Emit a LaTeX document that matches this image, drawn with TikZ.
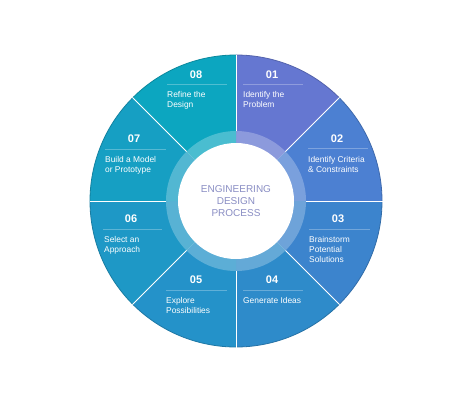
\documentclass[tikz,border=0pt]{standalone}
\usepackage{fontspec}
\setmainfont{Liberation Sans}
\usetikzlibrary{calc}

\begin{document}
\begin{tikzpicture}[
    x=1pt, y=1pt,
    every node/.style={font=\fontsize{8.4}{10.2}\selectfont, text=white, inner sep=0pt},
    stepNum/.style={font=\bfseries\fontsize{11}{12}\selectfont, anchor=base},
    stepLabel/.style={align=left, anchor=base west},
    sepLine/.style={draw=white, draw opacity=0.28, line width=0.6pt},
    divider/.style={draw=white, line width=0.9pt},
    ringBand/.style={fill=white, fill opacity=0.26},
    titleText/.style={align=center, text=titleTone, font=\fontsize{10}{12.3}\selectfont}
  ]
    \definecolor{toneA}{RGB}{101,119,209}
    \definecolor{toneB}{RGB}{76,128,210}
    \definecolor{toneC}{RGB}{60,132,205}
    \definecolor{toneD}{RGB}{46,139,202}
    \definecolor{toneE}{RGB}{36,146,201}
    \definecolor{toneF}{RGB}{30,152,198}
    \definecolor{toneG}{RGB}{22,159,195}
    \definecolor{toneH}{RGB}{12,166,192}
    \definecolor{titleTone}{RGB}{138,142,196}

    \useasboundingbox[fill=white] (0,0) rectangle (473,400);
    \coordinate (ctr) at (236,199);

    % wheel segments, 01 top right then clockwise
    \foreach \ang/\tone in {45/toneA, 0/toneB, -45/toneC, -90/toneD,
                            -135/toneE, 180/toneF, 135/toneG, 90/toneH} {
      \fill[\tone] (ctr) -- ([shift={(ctr)}]\ang:146)
        arc[start angle=\ang, end angle=\ang+45, radius=146] -- cycle;
      \draw[\tone!82!black, line width=0.8pt] ([shift={(ctr)}]\ang:146)
        arc[start angle=\ang, end angle=\ang+45, radius=146];
    }
    \foreach \ang in {0,45,...,315}
      \draw[divider] ([shift={(ctr)}]\ang:70) -- ([shift={(ctr)}]\ang:146.5);

    \fill[ringBand] (ctr) circle[radius=70];
    \fill[white] (ctr) circle[radius=58];
    \node[titleText] (title) at (ctr) {ENGINEERING\\DESIGN\\PROCESS};

    % 01
    \node[stepNum] (n01) at (272,322) {01};
    \draw[sepLine] (243,316) -- (303,316);
    \node[stepLabel] (t01) at (243,292.8) {Identify the\\Problem};
    % 02
    \node[stepNum] (n02) at (337,258) {02};
    \draw[sepLine] (308,252) -- (368,252);
    \node[stepLabel] (t02) at (308,227.8) {Identify Criteria\\\& Constraints};
    % 03
    \node[stepNum] (n03) at (338,178) {03};
    \draw[sepLine] (309,171) -- (370,171);
    \node[stepLabel] (t03) at (309,137.6) {Brainstorm\\Potential\\Solutions};
    % 04
    \node[stepNum] (n04) at (272,117) {04};
    \draw[sepLine] (243,110) -- (303,110);
    \node[stepLabel] (t04) at (243,97) {Generate Ideas};
    % 05
    \node[stepNum] (n05) at (196,117) {05};
    \draw[sepLine] (166,110) -- (227,110);
    \node[stepLabel] (t05) at (166,86.8) {Explore\\Possibilities};
    % 06
    \node[stepNum] (n06) at (131,178) {06};
    \draw[sepLine] (103,171) -- (162,171);
    \node[stepLabel] (t06) at (104,147.8) {Select an\\Approach};
    % 07
    \node[stepNum] (n07) at (134,258) {07};
    \draw[sepLine] (105,251) -- (166,251);
    \node[stepLabel] (t07) at (105,227.8) {Build a Model\\or Prototype};
    % 08
    \node[stepNum] (n08) at (196,322) {08};
    \draw[sepLine] (167,316) -- (227,316);
    \node[stepLabel] (t08) at (167,292.8) {Refine the\\Design};
  \end{tikzpicture}
\end{document}
